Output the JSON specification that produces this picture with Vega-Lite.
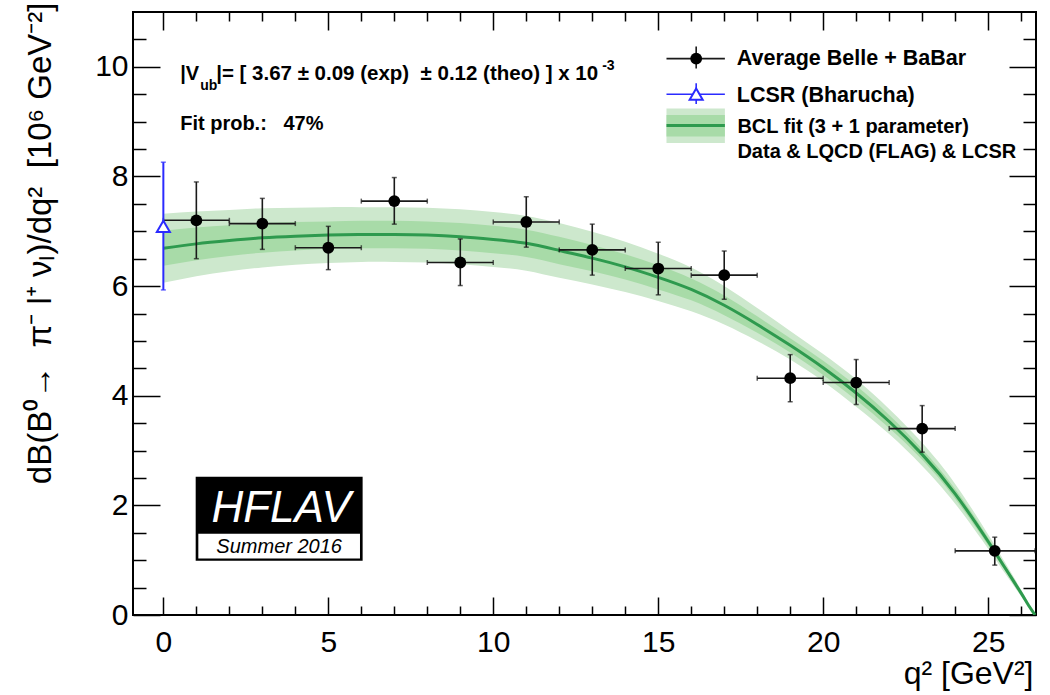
{
  "$schema": "https://vega.github.io/schema/vega-lite/v6.json",
  "width": 903,
  "height": 603,
  "autosize": {"type": "none"},
  "padding": {"left": 133, "top": 12, "right": 14, "bottom": 80},
  "background": "white",
  "config": {
    "font": "Liberation Sans",
    "view": {"stroke": "black", "strokeWidth": 2},
    "axis": {"domain": false, "grid": false, "labelFont": "Liberation Sans", "titleFont": "Liberation Sans", "labelColor": "black", "titleColor": "black", "tickColor": "black", "tickWidth": 1.5, "labelFontSize": 30, "titleFontSize": 32, "titleFontWeight": "normal"}
  },
  "data": {"values": [{}]},
  "datasets": {
    "curve": [
      {"q2": 0, "c": 6.69, "ilo": 6.37, "ihi": 7.01, "olo": 6.06, "ohi": 7.32},
      {"q2": 1, "c": 6.77, "ilo": 6.47, "ihi": 7.07, "olo": 6.18, "ohi": 7.36},
      {"q2": 2, "c": 6.83, "ilo": 6.55, "ihi": 7.11, "olo": 6.27, "ohi": 7.39},
      {"q2": 3, "c": 6.88, "ilo": 6.61, "ihi": 7.15, "olo": 6.34, "ohi": 7.42},
      {"q2": 4, "c": 6.91, "ilo": 6.65, "ihi": 7.17, "olo": 6.39, "ohi": 7.43},
      {"q2": 5, "c": 6.93, "ilo": 6.68, "ihi": 7.18, "olo": 6.42, "ohi": 7.44},
      {"q2": 6, "c": 6.94, "ilo": 6.69, "ihi": 7.19, "olo": 6.44, "ohi": 7.44},
      {"q2": 7, "c": 6.94, "ilo": 6.69, "ihi": 7.19, "olo": 6.44, "ohi": 7.44},
      {"q2": 8, "c": 6.93, "ilo": 6.68, "ihi": 7.18, "olo": 6.43, "ohi": 7.43},
      {"q2": 9, "c": 6.9, "ilo": 6.65, "ihi": 7.15, "olo": 6.4, "ohi": 7.4},
      {"q2": 10, "c": 6.85, "ilo": 6.6, "ihi": 7.1, "olo": 6.35, "ohi": 7.35},
      {"q2": 11, "c": 6.78, "ilo": 6.53, "ihi": 7.03, "olo": 6.28, "ohi": 7.28},
      {"q2": 12, "c": 6.65, "ilo": 6.4, "ihi": 6.9, "olo": 6.15, "ohi": 7.15},
      {"q2": 13, "c": 6.51, "ilo": 6.27, "ihi": 6.75, "olo": 6.03, "ohi": 6.99},
      {"q2": 14, "c": 6.35, "ilo": 6.12, "ihi": 6.58, "olo": 5.89, "ohi": 6.81},
      {"q2": 15, "c": 6.16, "ilo": 5.94, "ihi": 6.38, "olo": 5.73, "ohi": 6.59},
      {"q2": 16, "c": 5.94, "ilo": 5.74, "ihi": 6.14, "olo": 5.54, "ohi": 6.34},
      {"q2": 17, "c": 5.65, "ilo": 5.47, "ihi": 5.83, "olo": 5.3, "ohi": 6.0},
      {"q2": 18, "c": 5.3, "ilo": 5.15, "ihi": 5.45, "olo": 5.0, "ohi": 5.6},
      {"q2": 19, "c": 4.92, "ilo": 4.79, "ihi": 5.05, "olo": 4.66, "ohi": 5.18},
      {"q2": 20, "c": 4.51, "ilo": 4.38, "ihi": 4.64, "olo": 4.26, "ohi": 4.76},
      {"q2": 21, "c": 4.05, "ilo": 3.92, "ihi": 4.18, "olo": 3.8, "ohi": 4.3},
      {"q2": 22, "c": 3.53, "ilo": 3.41, "ihi": 3.65, "olo": 3.3, "ohi": 3.76},
      {"q2": 23, "c": 2.93, "ilo": 2.83, "ihi": 3.03, "olo": 2.72, "ohi": 3.14},
      {"q2": 24, "c": 2.21, "ilo": 2.12, "ihi": 2.3, "olo": 2.03, "ohi": 2.39},
      {"q2": 25, "c": 1.34, "ilo": 1.27, "ihi": 1.41, "olo": 1.21, "ohi": 1.47},
      {"q2": 25.5, "c": 0.87, "ilo": 0.82, "ihi": 0.92, "olo": 0.77, "ohi": 0.97},
      {"q2": 26, "c": 0.4, "ilo": 0.37, "ihi": 0.43, "olo": 0.34, "ohi": 0.46},
      {"q2": 26.2, "c": 0.2, "ilo": 0.18, "ihi": 0.22, "olo": 0.17, "ohi": 0.23},
      {"q2": 26.42, "c": 0, "ilo": 0, "ihi": 0, "olo": 0, "ohi": 0}
    ],
    "pts": [
      {"q2": 1, "lo": 0, "hi": 2, "y": 7.2, "ylo": 6.5, "yhi": 7.9},
      {"q2": 3, "lo": 2, "hi": 4, "y": 7.14, "ylo": 6.67, "yhi": 7.6},
      {"q2": 5, "lo": 4, "hi": 6, "y": 6.7, "ylo": 6.3, "yhi": 7.09},
      {"q2": 7, "lo": 6, "hi": 8, "y": 7.55, "ylo": 7.13, "yhi": 7.98},
      {"q2": 9, "lo": 8, "hi": 10, "y": 6.43, "ylo": 6.01, "yhi": 6.86},
      {"q2": 11, "lo": 10, "hi": 12, "y": 7.17, "ylo": 6.71, "yhi": 7.63},
      {"q2": 13, "lo": 12, "hi": 14, "y": 6.66, "ylo": 6.2, "yhi": 7.13},
      {"q2": 15, "lo": 14, "hi": 16, "y": 6.32, "ylo": 5.84, "yhi": 6.8},
      {"q2": 17, "lo": 16, "hi": 18, "y": 6.2, "ylo": 5.76, "yhi": 6.64},
      {"q2": 19, "lo": 18, "hi": 20, "y": 4.32, "ylo": 3.89, "yhi": 4.75},
      {"q2": 21, "lo": 20, "hi": 22, "y": 4.24, "ylo": 3.84, "yhi": 4.66},
      {"q2": 23, "lo": 22, "hi": 24, "y": 3.4, "ylo": 2.97, "yhi": 3.82},
      {"q2": 25.2, "lo": 24, "hi": 26.42, "y": 1.17, "ylo": 0.91, "yhi": 1.42}
    ],
    "lcsr": [
      {"q2": 0, "y": 7.09, "ylo": 5.93, "yhi": 8.26}
    ]
  },
  "resolve": {"axis": {"x": "independent", "y": "independent"}},
  "layer": [
    {
      "data": {"name": "curve"},
      "mark": {"type": "area", "color": "#cde8cd", "interpolate": "natural", "clip": true},
      "encoding": {
        "x": {"field": "q2", "type": "quantitative", "scale": {"domain": [-0.92, 26.45], "nice": false, "zero": false},
          "axis": {"orient": "bottom", "values": [0, 5, 10, 15, 20, 25], "tickSize": -18, "labelPadding": 30, "title": "q² [GeV²]", "titleAnchor": "end", "titleAlign": "right", "titleX": 900, "titleY": 68, "titleBaseline": "alphabetic"}},
        "y": {"field": "olo", "type": "quantitative", "scale": {"domain": [0, 11], "nice": false, "zero": false},
          "axis": {"orient": "left", "values": [0, 2, 4, 6, 8, 10], "tickSize": -27, "labelPadding": 32, "title": "dB(B⁰→\u00a0 π⁻ l⁺ νₗ)/dq²\u00a0 [10⁶ GeV⁻²]", "titleFontSize": 33, "titleAngle": -90, "titleX": -83, "titleY": -10, "titleAlign": "right", "titleBaseline": "alphabetic"}},
        "y2": {"field": "ohi"}
      }
    },
    {
      "data": {"name": "curve"},
      "mark": {"type": "area", "color": "#a8dba8", "interpolate": "natural", "clip": true},
      "encoding": {
        "x": {"field": "q2", "type": "quantitative", "scale": {"domain": [-0.92, 26.45], "nice": false, "zero": false},
          "axis": {"orient": "bottom", "values": [1, 2, 3, 4, 6, 7, 8, 9, 11, 12, 13, 14, 16, 17, 18, 19, 21, 22, 23, 24, 26], "tickSize": -9, "labels": false, "title": null}},
        "y": {"field": "ilo", "type": "quantitative", "scale": {"domain": [0, 11], "nice": false, "zero": false},
          "axis": {"orient": "left", "values": [0.5, 1, 1.5, 2.5, 3, 3.5, 4.5, 5, 5.5, 6.5, 7, 7.5, 8.5, 9, 9.5, 10.5], "tickSize": -13, "labels": false, "title": null}},
        "y2": {"field": "ihi"}
      }
    },
    {
      "data": {"name": "curve"},
      "mark": {"type": "line", "color": "#2e9a4e", "strokeWidth": 3, "interpolate": "natural", "clip": true},
      "encoding": {
        "x": {"field": "q2", "type": "quantitative", "scale": {"domain": [-0.92, 26.45], "nice": false, "zero": false},
          "axis": {"orient": "top", "values": [0, 5, 10, 15, 20, 25], "tickSize": -18, "labels": false, "title": null}},
        "y": {"field": "c", "type": "quantitative", "scale": {"domain": [0, 11], "nice": false, "zero": false},
          "axis": {"orient": "right", "values": [0, 2, 4, 6, 8, 10], "tickSize": -27, "labels": false, "title": null}}
      }
    },
    {
      "data": {"name": "pts"},
      "mark": {"type": "rule", "color": "#1a1a1a", "strokeWidth": 1.6, "clip": true},
      "encoding": {
        "x": {"field": "lo", "type": "quantitative", "scale": {"domain": [-0.92, 26.45], "nice": false, "zero": false},
          "axis": {"orient": "top", "values": [1, 2, 3, 4, 6, 7, 8, 9, 11, 12, 13, 14, 16, 17, 18, 19, 21, 22, 23, 24, 26], "tickSize": -9, "labels": false, "title": null}},
        "x2": {"field": "hi"},
        "y": {"field": "y", "type": "quantitative", "scale": {"domain": [0, 11], "nice": false, "zero": false},
          "axis": {"orient": "right", "values": [0.5, 1, 1.5, 2.5, 3, 3.5, 4.5, 5, 5.5, 6.5, 7, 7.5, 8.5, 9, 9.5, 10.5], "tickSize": -13, "labels": false, "title": null}}
      }
    },
    {
      "data": {"name": "pts"},
      "mark": {"type": "rule", "color": "#1a1a1a", "strokeWidth": 1.6},
      "encoding": {
        "x": {"field": "q2", "type": "quantitative", "axis": null},
        "y": {"field": "ylo", "type": "quantitative", "axis": null},
        "y2": {"field": "yhi"}
      }
    },
    {
      "data": {"name": "pts"},
      "mark": {"type": "tick", "orient": "horizontal", "color": "#1a1a1a", "size": 5, "thickness": 1.5},
      "encoding": {
        "x": {"field": "q2", "type": "quantitative", "axis": null},
        "y": {"field": "ylo", "type": "quantitative", "axis": null}
      }
    },
    {
      "data": {"name": "pts"},
      "mark": {"type": "tick", "orient": "horizontal", "color": "#1a1a1a", "size": 5, "thickness": 1.5},
      "encoding": {
        "x": {"field": "q2", "type": "quantitative", "axis": null},
        "y": {"field": "yhi", "type": "quantitative", "axis": null}
      }
    },
    {
      "data": {"name": "pts"},
      "mark": {"type": "tick", "orient": "vertical", "color": "#1a1a1a", "size": 5, "thickness": 1.5},
      "encoding": {
        "x": {"field": "lo", "type": "quantitative", "axis": null},
        "y": {"field": "y", "type": "quantitative", "axis": null}
      }
    },
    {
      "data": {"name": "pts"},
      "mark": {"type": "tick", "orient": "vertical", "color": "#1a1a1a", "size": 5, "thickness": 1.5, "clip": true},
      "encoding": {
        "x": {"field": "hi", "type": "quantitative", "axis": null},
        "y": {"field": "y", "type": "quantitative", "axis": null}
      }
    },
    {
      "data": {"name": "pts"},
      "mark": {"type": "point", "shape": "circle", "filled": true, "color": "black", "size": 140, "opacity": 1},
      "encoding": {
        "x": {"field": "q2", "type": "quantitative", "axis": null},
        "y": {"field": "y", "type": "quantitative", "axis": null}
      }
    },
    {
      "data": {"name": "lcsr"},
      "mark": {"type": "rule", "color": "#2b2bff", "strokeWidth": 2},
      "encoding": {
        "x": {"field": "q2", "type": "quantitative", "axis": null},
        "y": {"field": "ylo", "type": "quantitative", "axis": null},
        "y2": {"field": "yhi"}
      }
    },
    {
      "data": {"name": "lcsr"},
      "mark": {"type": "tick", "orient": "horizontal", "color": "#2b2bff", "size": 5, "thickness": 1.5},
      "encoding": {
        "x": {"field": "q2", "type": "quantitative", "axis": null},
        "y": {"field": "ylo", "type": "quantitative", "axis": null}
      }
    },
    {
      "data": {"name": "lcsr"},
      "mark": {"type": "tick", "orient": "horizontal", "color": "#2b2bff", "size": 5, "thickness": 1.5},
      "encoding": {
        "x": {"field": "q2", "type": "quantitative", "axis": null},
        "y": {"field": "yhi", "type": "quantitative", "axis": null}
      }
    },
    {
      "data": {"name": "lcsr"},
      "mark": {"type": "point", "shape": "triangle-up", "filled": true, "fill": "white", "stroke": "#2b2bff", "strokeWidth": 2, "size": 170, "opacity": 1},
      "encoding": {
        "x": {"field": "q2", "type": "quantitative", "axis": null},
        "y": {"field": "y", "type": "quantitative", "axis": null}
      }
    },
    {
      "mark": {"type": "rect", "color": "black"},
      "encoding": {
        "x": {"datum": 0.98, "type": "quantitative", "axis": null}, "x2": {"datum": 6.04},
        "y": {"datum": 0.99, "type": "quantitative", "axis": null}, "y2": {"datum": 2.52}
      }
    },
    {
      "mark": {"type": "rect", "color": "white"},
      "encoding": {
        "x": {"datum": 1.06, "type": "quantitative", "axis": null}, "x2": {"datum": 5.96},
        "y": {"datum": 1.03, "type": "quantitative", "axis": null}, "y2": {"datum": 1.48}
      }
    },
    {
      "mark": {"type": "text", "text": "HFLAV", "color": "white", "fontSize": 44, "fontStyle": "italic", "align": "center", "baseline": "alphabetic"},
      "encoding": {
        "x": {"datum": 3.57, "type": "quantitative", "axis": null},
        "y": {"datum": 1.7, "type": "quantitative", "axis": null}
      }
    },
    {
      "mark": {"type": "text", "text": "Summer 2016", "color": "black", "fontSize": 20, "fontStyle": "italic", "align": "center", "baseline": "alphabetic"},
      "encoding": {
        "x": {"datum": 3.51, "type": "quantitative", "axis": null},
        "y": {"datum": 1.136, "type": "quantitative", "axis": null}
      }
    },
    {
      "mark": {"type": "text", "text": "|V", "color": "black", "fontSize": 20, "fontWeight": "bold", "align": "left", "baseline": "alphabetic"},
      "encoding": {
        "x": {"datum": 0.51, "type": "quantitative", "axis": null},
        "y": {"datum": 9.76, "type": "quantitative", "axis": null}
      }
    },
    {
      "mark": {"type": "text", "text": "ub", "color": "black", "fontSize": 14, "fontWeight": "bold", "align": "left", "baseline": "alphabetic"},
      "encoding": {
        "x": {"datum": 1.12, "type": "quantitative", "axis": null},
        "y": {"datum": 9.575, "type": "quantitative", "axis": null}
      }
    },
    {
      "mark": {"type": "text", "text": "|= [ 3.67 ± 0.09 (exp)\u00a0 ± 0.12 (theo) ] x 10", "color": "black", "fontSize": 20.5, "fontWeight": "bold", "align": "left", "baseline": "alphabetic"},
      "encoding": {
        "x": {"datum": 1.6, "type": "quantitative", "axis": null},
        "y": {"datum": 9.76, "type": "quantitative", "axis": null}
      }
    },
    {
      "mark": {"type": "text", "text": "-3", "color": "black", "fontSize": 14, "fontWeight": "bold", "align": "left", "baseline": "alphabetic"},
      "encoding": {
        "x": {"datum": 13.3, "type": "quantitative", "axis": null},
        "y": {"datum": 9.94, "type": "quantitative", "axis": null}
      }
    },
    {
      "mark": {"type": "text", "text": "Fit prob.:\u00a0\u00a0 47%", "color": "black", "fontSize": 20, "fontWeight": "bold", "align": "left", "baseline": "alphabetic"},
      "encoding": {
        "x": {"datum": 0.51, "type": "quantitative", "axis": null},
        "y": {"datum": 8.85, "type": "quantitative", "axis": null}
      }
    },
    {
      "mark": {"type": "rect", "color": "#cde8cd"},
      "encoding": {
        "x": {"datum": 15.25, "type": "quantitative", "axis": null}, "x2": {"datum": 17.02},
        "y": {"datum": 8.61, "type": "quantitative", "axis": null}, "y2": {"datum": 9.24}
      }
    },
    {
      "mark": {"type": "rect", "color": "#a8dba8"},
      "encoding": {
        "x": {"datum": 15.25, "type": "quantitative", "axis": null}, "x2": {"datum": 17.02},
        "y": {"datum": 8.73, "type": "quantitative", "axis": null}, "y2": {"datum": 9.12}
      }
    },
    {
      "mark": {"type": "rule", "color": "#2e9a4e", "strokeWidth": 3},
      "encoding": {
        "x": {"datum": 15.25, "type": "quantitative", "axis": null}, "x2": {"datum": 17.02},
        "y": {"datum": 8.93, "type": "quantitative", "axis": null}
      }
    },
    {
      "mark": {"type": "rule", "color": "#1a1a1a", "strokeWidth": 1.6},
      "encoding": {
        "x": {"datum": 15.25, "type": "quantitative", "axis": null}, "x2": {"datum": 17.02},
        "y": {"datum": 10.15, "type": "quantitative", "axis": null}
      }
    },
    {
      "mark": {"type": "rule", "color": "#1a1a1a", "strokeWidth": 1.6},
      "encoding": {
        "x": {"datum": 16.15, "type": "quantitative", "axis": null},
        "y": {"datum": 9.97, "type": "quantitative", "axis": null}, "y2": {"datum": 10.37}
      }
    },
    {
      "mark": {"type": "point", "shape": "circle", "filled": true, "color": "black", "size": 140, "opacity": 1},
      "encoding": {
        "x": {"datum": 16.15, "type": "quantitative", "axis": null},
        "y": {"datum": 10.15, "type": "quantitative", "axis": null}
      }
    },
    {
      "mark": {"type": "rule", "color": "#2b2bff", "strokeWidth": 1.6},
      "encoding": {
        "x": {"datum": 15.25, "type": "quantitative", "axis": null}, "x2": {"datum": 17.02},
        "y": {"datum": 9.5, "type": "quantitative", "axis": null}
      }
    },
    {
      "mark": {"type": "rule", "color": "#2b2bff", "strokeWidth": 1.6},
      "encoding": {
        "x": {"datum": 16.15, "type": "quantitative", "axis": null},
        "y": {"datum": 9.32, "type": "quantitative", "axis": null}, "y2": {"datum": 9.7}
      }
    },
    {
      "mark": {"type": "point", "shape": "triangle-up", "filled": true, "fill": "white", "stroke": "#2b2bff", "strokeWidth": 2, "size": 170, "opacity": 1},
      "encoding": {
        "x": {"datum": 16.15, "type": "quantitative", "axis": null},
        "y": {"datum": 9.5, "type": "quantitative", "axis": null}
      }
    },
    {
      "mark": {"type": "text", "text": "Average Belle + BaBar", "color": "black", "fontSize": 21.5, "fontWeight": "bold", "align": "left", "baseline": "alphabetic"},
      "encoding": {
        "x": {"datum": 17.38, "type": "quantitative", "axis": null},
        "y": {"datum": 10.03, "type": "quantitative", "axis": null}
      }
    },
    {
      "mark": {"type": "text", "text": "LCSR (Bharucha)", "color": "black", "fontSize": 21.5, "fontWeight": "bold", "align": "left", "baseline": "alphabetic"},
      "encoding": {
        "x": {"datum": 17.38, "type": "quantitative", "axis": null},
        "y": {"datum": 9.36, "type": "quantitative", "axis": null}
      }
    },
    {
      "mark": {"type": "text", "text": "BCL fit (3 + 1 parameter)", "color": "black", "fontSize": 20, "fontWeight": "bold", "align": "left", "baseline": "alphabetic"},
      "encoding": {
        "x": {"datum": 17.4, "type": "quantitative", "axis": null},
        "y": {"datum": 8.785, "type": "quantitative", "axis": null}
      }
    },
    {
      "mark": {"type": "text", "text": "Data & LQCD (FLAG) & LCSR", "color": "black", "fontSize": 20, "fontWeight": "bold", "align": "left", "baseline": "alphabetic"},
      "encoding": {
        "x": {"datum": 17.4, "type": "quantitative", "axis": null},
        "y": {"datum": 8.33, "type": "quantitative", "axis": null}
      }
    }
  ]
}
